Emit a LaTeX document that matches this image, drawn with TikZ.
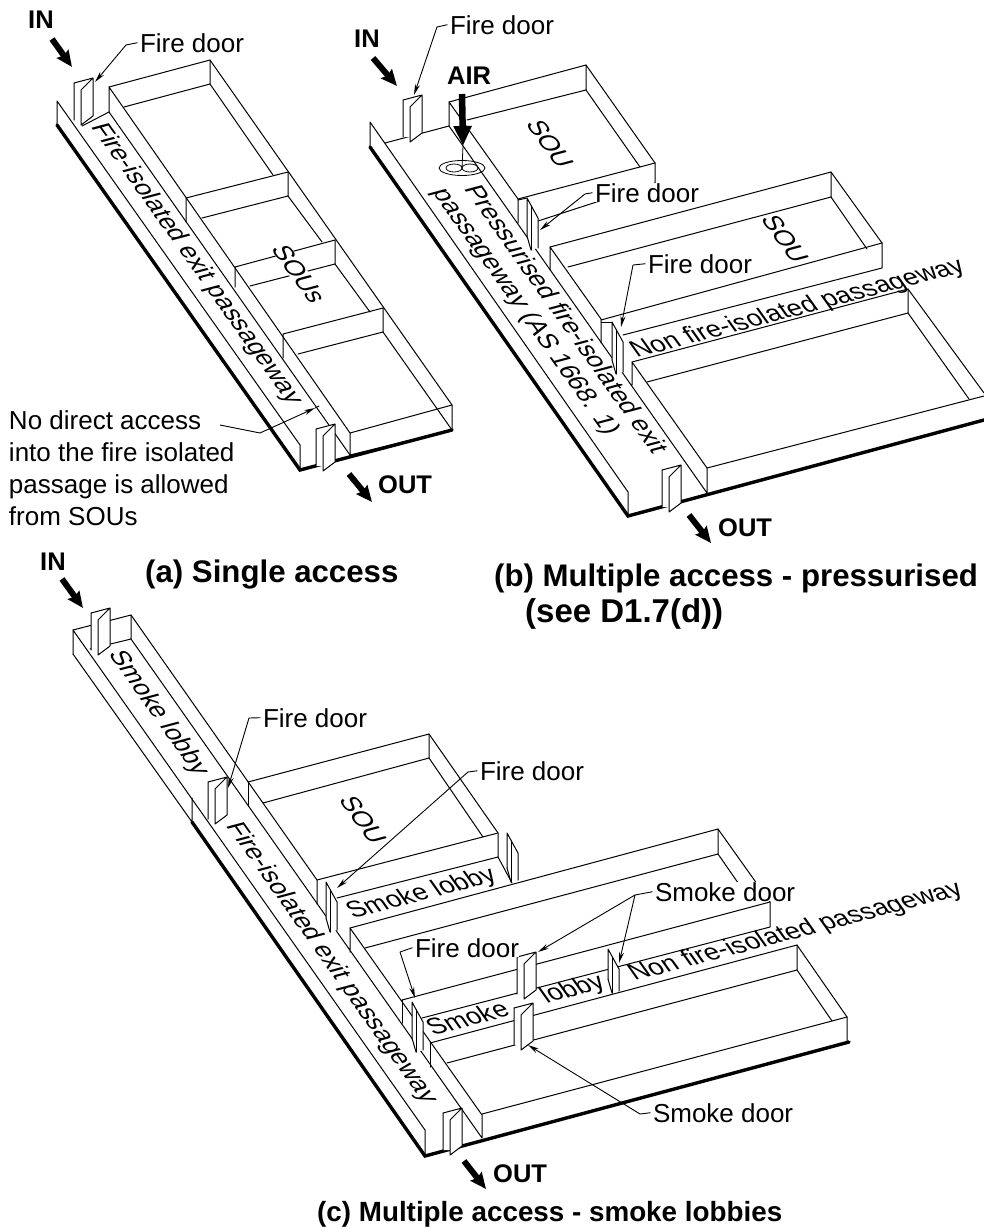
\documentclass[tikz,border=0pt]{standalone}
\usepackage{fontspec}
\setmainfont{Liberation Sans}
\usetikzlibrary{arrows.meta}
\tikzset{
 wall/.style={line width=1pt,line join=round,line cap=round},
 thick base/.style={line width=3.4pt,line cap=round,line join=miter},
 lab/.style={font=\fontsize{26}{32}\selectfont,inner sep=0pt,outer sep=2.5pt,anchor=base west,xshift=-2.5pt},
 wlab/.style={lab,fill=white},
 tag/.style={font=\bfseries\fontsize{25.5}{30}\selectfont,inner sep=0pt,anchor=base west},
 captext/.style={font=\bfseries\fontsize{31.2}{36}\selectfont,inner sep=0pt,anchor=base west},
 rlab/.style={font=\fontsize{26}{30}\selectfont,inner sep=0pt,anchor=center,transform shape},
 alongwall/.style={cm={.579,-.815,.966,.259,(0,0)}},
 alongback/.style={cm={.967,.255,-.579,.815,(0,0)}},
 lead/.style={line width=.9pt,line join=round,-{Stealth[length=11pt,width=5pt]}},
 flowarrow/.style={line width=6pt,-{Stealth[length=16pt,width=14pt,inset=2pt]}},
 airarrow/.style={line width=6.5pt,-{Stealth[length=20pt,width=17pt,inset=0pt]}},
}
\newcommand\doorA[2]{\begin{scope}[shift={(#1,#2)}]
 \fill[white] (0,0)--(19,-5)--(19,33)--(7,42)--(7,37)--(0,37)--cycle;
 \draw[wall] (0,37)--(0,0)--(19,-5)--(19,33)--(7,42)--(7,7)--(19,-5);
\end{scope}}
\newcommand\doorB[3]{\begin{scope}[shift={(#1,#2)}]
 \fill[white] (0,0)--(11,20)--(11,#3-2)--(4,#3)--(0,#3-14)--cycle;
 \draw[wall] (0,#3-14)--(0,0)--(11,20)--(11,#3-2);
 \draw[wall] (4,8)--(4,#3);
 \draw[wall] (0,#3-14)--(4,#3);
\end{scope}}
% text lying in the floor plane: name, x, y, text
\newcommand\walltext[4]{\begin{scope}[shift={(#2,#3)},alongwall]\node[rlab] (#1) at (0,0) {#4};\end{scope}}
\newcommand\backtext[4]{\begin{scope}[shift={(#2,#3)},alongback]\node[rlab] (#1) at (0,0) {#4};\end{scope}}
\begin{document}
\begin{tikzpicture}[x=1pt,y=-1pt]
\useasboundingbox (0,0) rectangle (984,1229);
\fill[white] (0,0) rectangle (984,1229);

%% ---------- panel (a)
\draw[thick base] (57,125)--(300,470)--(452,430);
\draw[wall] (57,125)--(57,101)--(300,445)--(300,470);
\draw[wall] (109,112)--(109,87)--(350,433)--(350,455);
\draw[wall] (109,112)--(350,455);
\draw[wall] (82,126)--(109,112);
\draw[wall] (109,87)--(210,60)--(452,405)--(452,430)--(350,455);
\draw[wall] (350,433)--(452,405);
\draw[wall] (124,107)--(210,84)--(210,60);
\draw[wall] (210,84)--(273,175);
\draw[wall] (186,222)--(186,198)--(288,172)--(288,196)--(202,218);
\draw[wall] (288,196)--(322,242);
\draw[wall] (235,287)--(235,267)--(335,240)--(335,264)--(250,286);
\draw[wall] (335,264)--(370,312);
\draw[wall] (283,358)--(283,334)--(383,308)--(383,332)--(298,354);
\draw[wall] (383,332)--(452,430);
\doorA{74}{83}
\doorA{316}{429}
\begin{scope}[shift={(299,274)},alongwall]\node[rlab,fill=white,inner xsep=3pt,inner ysep=0pt] (sousA) at (0,0) {SOUs};\end{scope}
\walltext{feA}{196}{264}{Fire-isolated exit passageway}
\node[tag] (inA) at (28,28) {IN};
\coordinate (inAs) at (52,39); \coordinate (inAe) at (72,67);
\draw[flowarrow] (inAs)--(inAe);
\node[lab] (fdA) at (140,52) {Fire door};
\coordinate (fdAk) at (126,45); \coordinate (fdAt) at (95,82);
\draw[lead] (fdA.west)--(fdAk)--(fdAt);
\node[lab,align=left,anchor=north west] (noA) at (9,408) {No direct access\\into the fire isolated\\passage is allowed\\from SOUs};
\coordinate (noA1) at (220,425); \coordinate (noA2) at (260,433); \coordinate (noA3) at (315,408); \coordinate (noA4) at (319,406);
\draw[lead,shorten >=0pt] (noA1)--(noA2)--(noA3);
\draw[wall,line width=.9pt] (noA3)--(noA4);
\node[tag] (outA) at (378,493) {OUT};
\coordinate (outAs) at (349,474); \coordinate (outAe) at (372,502);
\draw[flowarrow] (outAs)--(outAe);
\node[captext] (capA) at (145,582) {(a) Single access};

%% ---------- panel (b)
\draw[thick base] (370,147)--(628,516)--(984,420);
\draw[wall] (370,147)--(370,122)--(628,492)--(628,516);
\draw[wall] (385,143)--(449,126)--(449,102)--(518,199)--(518,223);
\draw[wall] (449,126)--(707,493)--(707,468)--(632,362)--(632,385);
\draw[wall] (449,102)--(586,65)--(586,90)--(467,120);
\draw[wall] (586,65)--(655,163)--(655,183)--(538,221);
\draw[wall] (586,90)--(640,167);
\draw[wall] (518,199)--(655,163);
\draw[wall] (550,270)--(550,247)--(601,319)--(601,343);
\draw[wall] (550,247)--(831,172)--(831,197)--(568,267);
\draw[wall] (831,172)--(882,243)--(882,268)--(623,335);
\draw[wall] (831,197)--(867,249);
\draw[wall] (601,320)--(882,243);
\draw[wall] (632,362)--(908,289)--(908,313)--(647,382);
\draw[wall] (908,289)--(984,393);
\draw[wall] (908,313)--(969,399);
\draw[wall] (707,468)--(984,396);
\draw[wall] (518,200)--(527,198); \draw[wall] (601,322)--(612,322);
\doorA{403}{100}
\doorB{527}{198}{52}
\doorB{612}{322}{52}
\doorA{662}{470}
\node[tag] (inB) at (354,47) {IN};
\coordinate (inBs) at (373,58); \coordinate (inBe) at (397,86);
\draw[flowarrow] (inBs)--(inBe);
\node[lab] (fdB1) at (450,34) {Fire door};
\coordinate (fdB1k) at (437,27); \coordinate (fdB1t) at (414,95);
\draw[lead] (fdB1.west)--(fdB1k)--(fdB1t);
\node[tag] (air) at (447,84) {AIR};
\coordinate (airS) at (462,94); \coordinate (airE) at (463,146); \coordinate (fanC) at (462,168);
\draw[wall,line width=.8pt] (fanC) ellipse (23 and 7.5);
\draw[wall,line width=.8pt] (454,168) ellipse (8 and 4);
\draw[wall,line width=.8pt] (470,168) ellipse (8 and 4);
\draw[wall,line width=.8pt] (airE)--(fanC);
\draw[airarrow] (airS)--(airE);
\node[wlab] (fdB2) at (595,202) {Fire door};
\coordinate (fdB2k) at (585,194); \coordinate (fdB2t) at (540,230);
\draw[lead] (fdB2.west)--(fdB2k)--(fdB2t);
\node[lab] (fdB3) at (648,273) {Fire door};
\coordinate (fdB3k) at (633,265); \coordinate (fdB3t) at (621,327);
\draw[lead] (fdB3.west)--(fdB3k)--(fdB3t);
\walltext{souB1}{550}{144}{SOU}
\walltext{souB2}{785}{239}{SOU}
\walltext{prB}{567}{319}{Pressurised fire-isolated exit}
\walltext{paB}{525}{312}{passageway (AS 1668. 1)}
\backtext{nfB}{798}{309}{Non fire-isolated passageway}
\node[tag] (outB) at (718,536) {OUT};
\coordinate (outBs) at (689,515); \coordinate (outBe) at (711,543);
\draw[flowarrow] (outBs)--(outBe);
\node[captext] (capB) at (494,586) {(b) Multiple access - pressurised};
\node[captext,font=\bfseries\fontsize{33}{36}\selectfont] (capB2) at (525,622) {(see D1.7(d))};

%% ---------- panel (c)
\draw[thick base] (192,822)--(425,1156)--(849,1042);
\draw[wall] (73,654)--(192,822)--(192,798);
\draw[wall] (73,654)--(73,630)--(425,1130)--(425,1156);
\draw[wall] (73,630)--(131,615)--(131,639)--(90,649);
\draw[wall] (131,615)--(317,880)--(317,904);
\draw[wall] (131,639)--(482,1138)--(482,1115)--(350,928)--(350,952);
\draw[wall] (248,782)--(248,806);
\draw[wall] (248,782)--(429,734)--(429,758)--(263,803);
\draw[wall] (429,734)--(498,833)--(498,857)--(337,898);
\draw[wall] (429,758)--(483,837);
\draw[wall] (317,880)--(498,833);
\draw[wall] (498,857)--(512,883);
\draw[wall] (350,928)--(718,829)--(718,854)--(365,948);
\draw[wall] (718,829)--(755,881)--(770,902)--(770,927)--(422,1018);
\draw[wall] (718,854)--(743,890);
\draw[wall] (402,1000)--(770,902);
\draw[wall] (402,1000)--(402,1023);
\draw[wall] (430,1043)--(430,1067);
\draw[wall] (430,1043)--(797,945)--(797,970)--(447,1063);
\draw[wall] (797,945)--(847,1017)--(847,1042);
\draw[wall] (797,970)--(832,1021);
\draw[wall] (482,1114)--(847,1017);
\doorA{91}{613}
\doorA{208}{782}
\doorA{443}{1113}
\doorB{326}{882}{50}
\doorB{507}{833}{49}
\doorA{517}{957}
\doorA{514}{1008}
\doorB{608}{949}{44}
\doorB{412}{1002}{50}
\node[tag] (inC) at (40,570) {IN};
\coordinate (inCs) at (62,579); \coordinate (inCe) at (83,608);
\draw[flowarrow] (inCs)--(inCe);
\walltext{slC1}{158}{713}{Smoke lobby}
\walltext{feC}{331}{963}{Fire-isolated exit passageway}
\walltext{souC}{363}{820}{SOU}
\backtext{slC2}{422}{894}{Smoke lobby}
\backtext{slC3}{467}{1018}{Smoke}
\backtext{slC4}{573}{990}{lobby}
\backtext{nfC}{796}{932}{Non fire-isolated passageway}
\node[lab] (fdC1) at (263,727) {Fire door};
\coordinate (fdC1k) at (249,718); \coordinate (fdC1t) at (228,788);
\draw[lead] (fdC1.west)--(fdC1k)--(fdC1t);
\node[lab] (fdC2) at (480,780) {Fire door};
\coordinate (fdC2k) at (468,772); \coordinate (fdC2t) at (337,888);
\draw[lead] (fdC2.west)--(fdC2k)--(fdC2t);
\node[wlab] (fdC3) at (415,957) {Fire door};
\coordinate (fdC3k) at (400,952); \coordinate (fdC3t) at (415,998);
\draw[lead] (fdC3.west)--(fdC3k)--(fdC3t);
\node[wlab] (sdC1) at (655,901) {Smoke door};
\coordinate (sdC1k) at (635,895); \coordinate (sdC1a) at (619,963); \coordinate (sdC1b) at (538,952);
\draw[lead] (sdC1.west)--(sdC1k)--(sdC1a);
\draw[lead] (sdC1k)--(sdC1b);
\node[lab] (sdC2) at (653,1122) {Smoke door};
\coordinate (sdC2k) at (640,1114); \coordinate (sdC2t) at (528,1045);
\draw[lead] (sdC2.west)--(sdC2k)--(sdC2t);
\node[tag] (outC) at (493,1182) {OUT};
\coordinate (outCs) at (464,1161); \coordinate (outCe) at (486,1189);
\draw[flowarrow] (outCs)--(outCe);
\node[captext,font=\bfseries\fontsize{27.8}{34}\selectfont] (capC) at (317,1221) {(c) Multiple access - smoke lobbies};
\end{tikzpicture}
\end{document}
